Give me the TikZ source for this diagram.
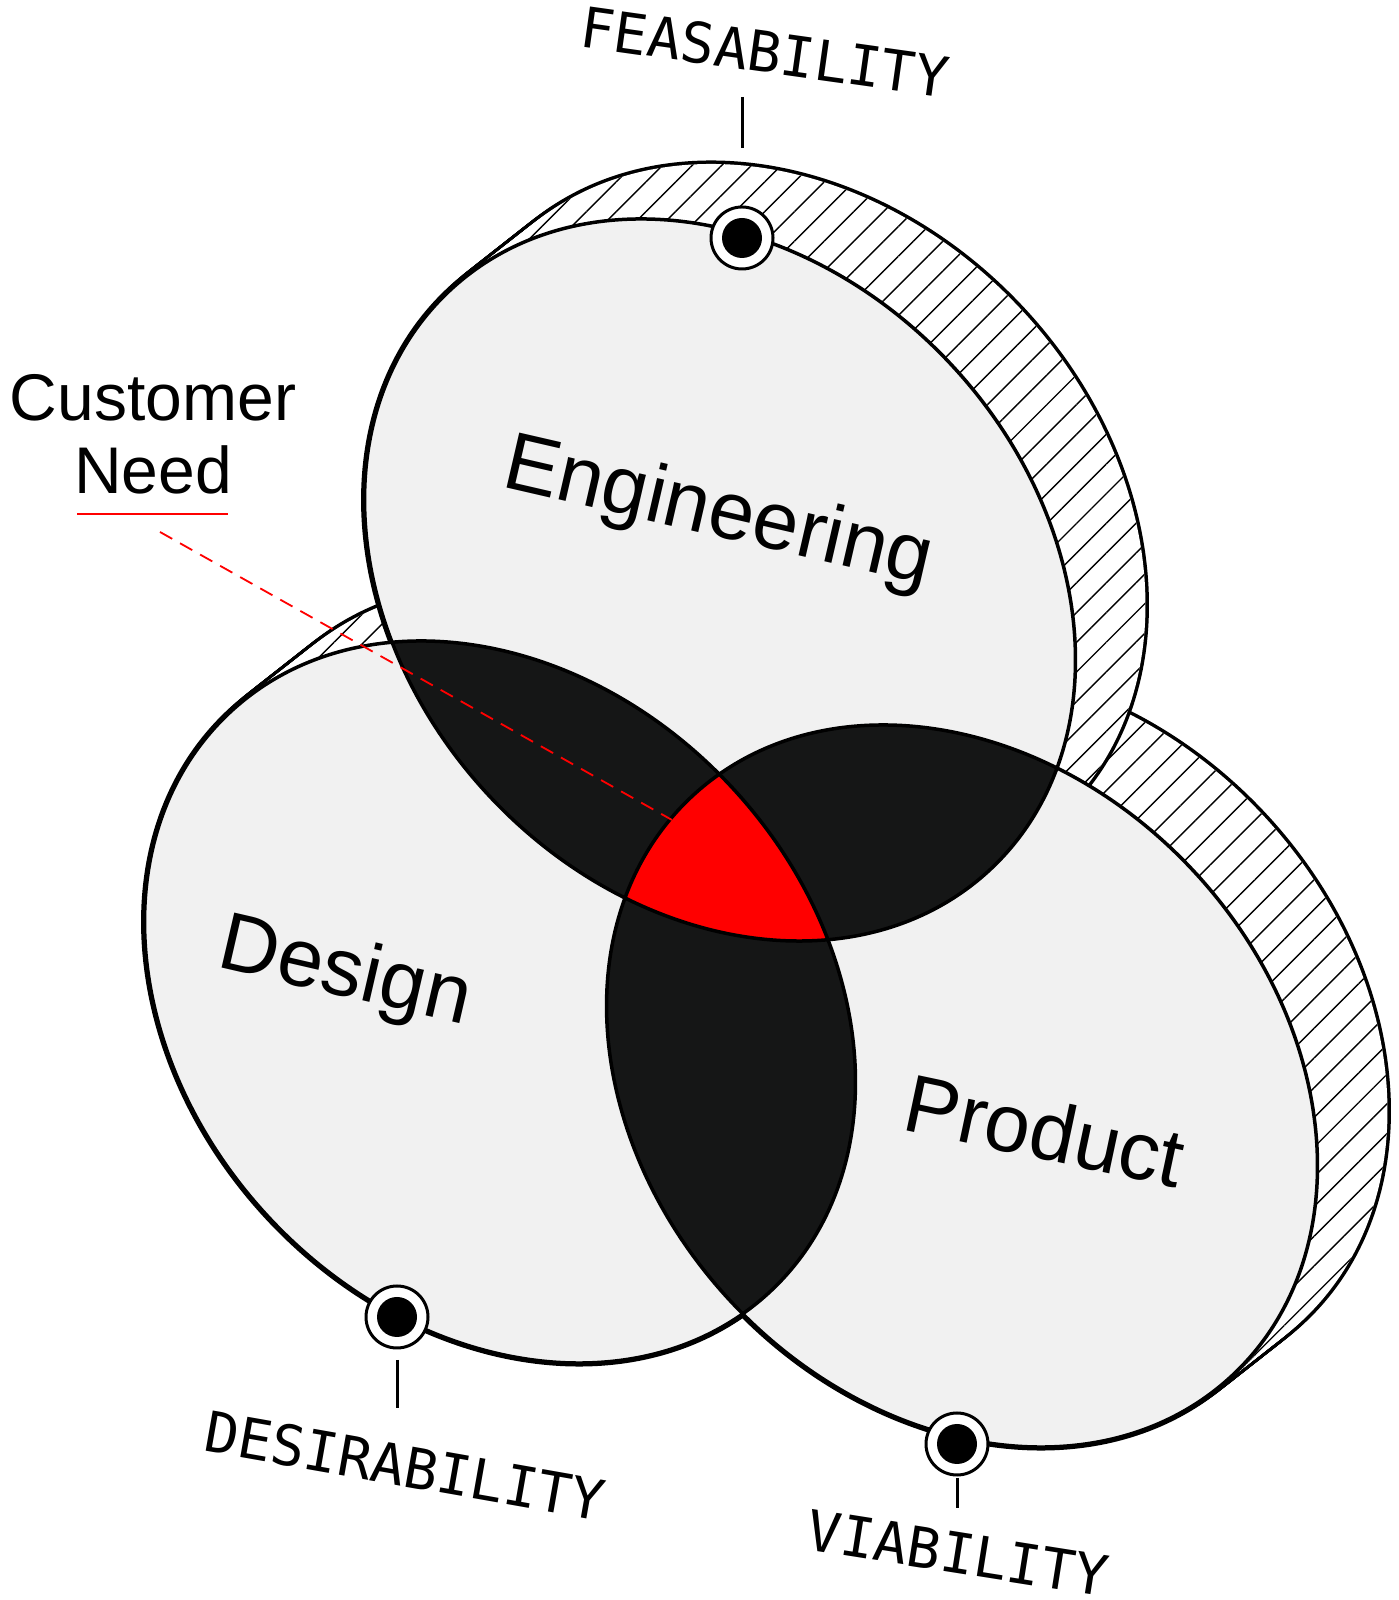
\documentclass[tikz,border=0pt]{standalone}
\usepackage{fontspec}
\setmainfont{Liberation Sans}
\newfontfamily\monof{DejaVu Sans Mono}
\usetikzlibrary{patterns.meta,calc}
\definecolor{facegray}{HTML}{F1F1F1}
\definecolor{lens}{HTML}{151616}
\begin{document}
\begin{tikzpicture}[x=1pt,y=1pt,
  outl/.style={line width=3.5pt,black},
  hatchfill/.style={pattern={Lines[angle=45,distance=21pt,line width=1.4pt]}},
  big/.style={font=\fontsize{82}{82}\selectfont},
  mono/.style={font=\monof\fontsize{56}{56}\selectfont},
  dotring/.style={circle,fill=white,draw=black,line width=3pt,minimum size=62pt,inner sep=0pt},
  dotcore/.style={circle,fill=black,minimum size=40pt,inner sep=0pt}]
\useasboundingbox (0,0) rectangle (1398,1600);
\fill[white] (0,0) rectangle (1398,1600);
\def\myell#1{[rotate around={-47:(#1)}] (#1) ellipse [x radius=396,y radius=316]}
\coordinate (ce) at (720,1020);
\coordinate (cd) at (500,598);
\coordinate (cp) at (962,514);
% sides
\foreach \c in {cd,cp,ce}{
  \foreach \t in {0,0.04,...,1.001}{
    \coordinate (tmp) at ($(\c)+(70*\t,55*\t)$);
    \draw[line width=7pt] \myell{tmp};
  }
  \foreach \t in {0,0.04,...,1.001}{
    \coordinate (tmp) at ($(\c)+(70*\t,55*\t)$);
    \fill[white] \myell{tmp};
    \fill[hatchfill] \myell{tmp};
  }
}
% fronts
\fill[facegray] \myell{cd};
\fill[facegray] \myell{cp};
\fill[facegray] \myell{ce};
\begin{scope}\clip \myell{ce}; \fill[lens] \myell{cd}; \fill[lens] \myell{cp}; \end{scope}
\begin{scope}\clip \myell{cd}; \fill[lens] \myell{cp}; \end{scope}
\begin{scope}\clip \myell{ce}; \clip \myell{cd}; \fill[red] \myell{cp}; \end{scope}
\draw[outl] \myell{cd};
\draw[outl] \myell{cp};
\draw[outl] \myell{ce};
% labels
\node[big,rotate=-13] (eng) at (718,1085) {Engineering};
\node[big,rotate=-13] (des) at (345,625) {Design};
\node[big,rotate=-12] (pro) at (1045,470) {Product};
\node[font=\fontsize{66}{66}\selectfont] (cust) at (153,1202) {Customer};
\node[font=\fontsize{66}{66}\selectfont] (need) at (153,1130) {Need};
\coordinate (ul1) at (77,1086); \coordinate (ul2) at (228,1086);
\draw[red,line width=1.8pt] (ul1) -- (ul2);
\coordinate (dsh1) at (160,1068); \coordinate (dsh2) at (672,780);
\draw[red,line width=1.8pt,dash pattern=on 14pt off 9pt] (dsh1) -- (dsh2);
% dots and ticks
\node[mono,rotate=-8] (fea) at (765,1548) {FEASABILITY};
\node[mono,rotate=-10] (desir) at (405,134) {DESIRABILITY};
\node[mono,rotate=-9] (via) at (958,47) {VIABILITY};
\coordinate (t1a) at (742,1503); \coordinate (t1b) at (742,1452);
\coordinate (t2a) at (397,240); \coordinate (t2b) at (397,192);
\coordinate (t3a) at (957,122); \coordinate (t3b) at (957,92);
\draw[line width=3pt] (t1a) -- (t1b);
\draw[line width=3pt] (t2a) -- (t2b);
\draw[line width=3pt] (t3a) -- (t3b);
\node[dotring] (d1) at (742,1362) {}; \node[dotcore] at (d1) {};
\node[dotring] (d2) at (397,283) {}; \node[dotcore] at (d2) {};
\node[dotring] (d3) at (957,156) {}; \node[dotcore] at (d3) {};
\end{tikzpicture}
\end{document}
